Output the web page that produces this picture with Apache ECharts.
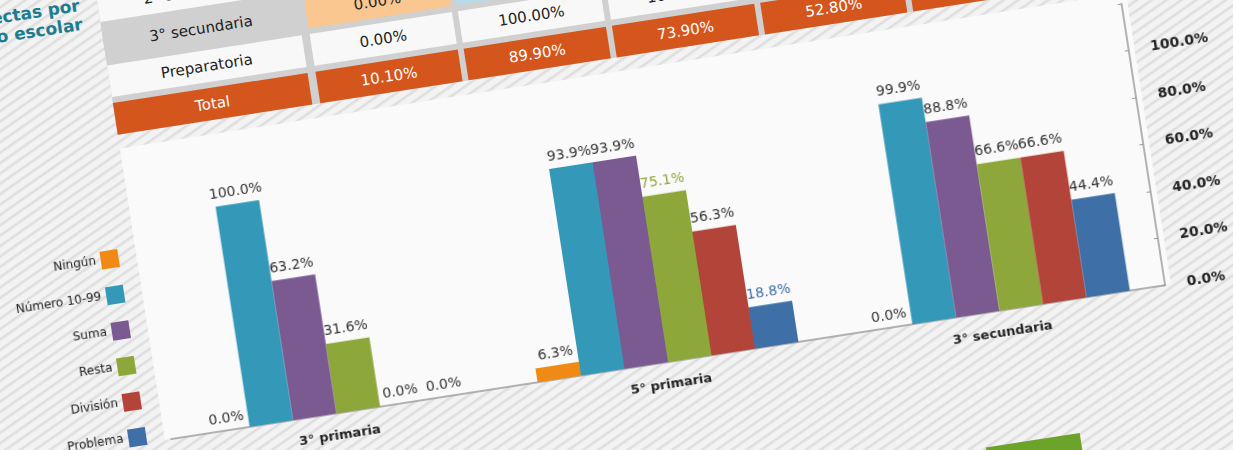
<!DOCTYPE html>
<html lang="es">
<head>
<meta charset="UTF-8">
<title>Respuestas correctas por grado escolar</title>
<style>
html,body{margin:0;padding:0;}
body{width:1233px;height:450px;overflow:hidden;position:relative;
  background:repeating-linear-gradient(145deg,#f3f3f3 0px,#f3f3f3 4px,#dbdbdb 6px,#f3f3f3 8.5px);
  font-family:"DejaVu Sans",Verdana,sans-serif;}
#sheet{position:absolute;left:-35px;top:-80px;width:1400px;height:700px;
  transform-origin:200px 520px;transform:rotate(-8.8deg);}
#panel{position:absolute;left:200px;top:225px;width:1018px;height:295px;background:#fafafa;}
#title{position:absolute;left:-318px;top:68px;width:500px;text-align:right;
  color:#1d7d8f;font-weight:bold;font-size:17px;line-height:19px;}
#tbl{position:absolute;left:200px;top:59px;width:1100px;height:152px;background:#d0d0d0;}
.cell{position:absolute;height:32px;line-height:32px;text-align:center;font-size:15px;color:#222;background:#f8f8f8;white-space:nowrap;}
#btn{position:absolute;left:1010px;top:653px;width:95px;height:32px;background:#6ba32b;}
#main{position:absolute;left:0;top:0;width:1400px;height:700px;}
</style>
</head>
<body>
<div id="sheet">
  <div id="title">Respuestas correctas por<br>grado escolar</div>
  <div id="tbl"></div>
  <div id="panel"></div>
  <div id="btn"></div>
  <div id="main"></div>
</div>
<script src="https://cdn.jsdelivr.net/npm/echarts@6/dist/echarts.min.js"></script>
<script>
// grados del grafico
var grados = ['3° primaria', '5° primaria', '3° secundaria'];
// series (porcentaje de aciertos)
var ningun   = [0.0, 6.3, 0.0];
var numero   = [100.0, 93.9, 99.9];
var suma     = [63.2, 93.9, 88.8];
var resta    = [31.6, 75.1, 66.6];
var division = [0.0, 56.3, 66.6];
var problema = [0.0, 18.8, 44.4];
var nombres  = ['Ningún', 'Número 10-99', 'Suma', 'Resta', 'División', 'Problema'];
var colores  = ['#f08a14', '#3499b9', '#7b5a92', '#8ea73a', '#b3443a', '#3e6fa6'];
var ticks    = [0, 20, 40, 60, 80, 100];

// tabla de arriba (solo se ve una parte)
var filas = ['2° secundaria', '3° secundaria', 'Preparatoria', 'Total'];
var tab2sec  = ['', '', '', '', '', ''];
var tab3sec  = ['0.00%', '99.90%', '88.80%', '66.60%', '66.60%', '44.40%'];
var tabPrep  = ['0.00%', '100.00%', '100.00%', '', '', ''];
var tabTotal = ['10.10%', '89.90%', '73.90%', '52.80%', '', ''];
var pastel   = ['#fbc790', '#b7dbe6', '#cfc0da', '#d6e2a9', '#e8b6ae', '#b9cadf'];

(function () {
    var tbl = document.getElementById('tbl');
    var valores = [tab2sec, tab3sec, tabPrep, tabTotal];
    for (var r = 0; r < filas.length; r++) {
        var top = r * 38 + 6;
        var c = document.createElement('div');
        c.className = 'cell';
        c.style.left = '0px'; c.style.top = top + 'px'; c.style.width = '197px';
        c.textContent = filas[r];
        if (r == 1) c.style.background = '#d0d0d0';
        if (r == 3) { c.style.background = '#d4561d'; c.style.color = '#fff'; }
        tbl.appendChild(c);
        for (var k = 0; k < 6; k++) {
            var d = document.createElement('div');
            d.className = 'cell';
            d.style.left = (205 + k * 150) + 'px'; d.style.top = top + 'px'; d.style.width = '144px';
            d.textContent = valores[r][k];
            if (r == 1) d.style.background = pastel[k];
            if (r == 3) { d.style.background = '#d4561d'; d.style.color = '#fff'; }
            tbl.appendChild(d);
        }
    }
})();

var myChart = echarts.init(document.getElementById('main'));
var series = [ningun, numero, suma, resta, division, problema].map(function (arr, i) {
    return {
        name: nombres[i],
        type: 'bar',
        yAxisIndex: 1,
        barWidth: 44,
        barGap: '0%',
        itemStyle: {color: colores[i]},
        label: {
            show: true,
            position: 'top',
            distance: 5,
            fontFamily: 'DejaVu Sans',
            fontSize: 14,
            color: '#333',
            formatter: function (p) { return p.value.toFixed(1) + '%'; }
        },
        data: arr.slice()
    };
});
// etiquetas resaltadas en 5° primaria
series[3].data[1] = {value: resta[1], label: {color: '#8ea73a'}};
series[5].data[1] = {value: problema[1], label: {color: '#3e6fa6'}};

var option = {
    animation: false,
    textStyle: {fontFamily: 'DejaVu Sans'},
    legend: {
        orient: 'vertical',
        right: 1213,
        top: 319,
        align: 'right',
        icon: 'rect',
        itemWidth: 18,
        itemHeight: 18,
        itemGap: 18,
        textStyle: {fontSize: 12, color: '#222'},
        data: nombres
    },
    grid: {left: 206, top: 235, width: 1006, height: 285},
    xAxis: {
        type: 'category',
        data: grados,
        axisLine: {lineStyle: {color: '#9a9a9a', width: 1.5}},
        axisTick: {show: false},
        axisLabel: {fontWeight: 'bold', fontSize: 13, color: '#222', margin: 16}
    },
    yAxis: [{
        type: 'value',
        position: 'right',
        min: 0,
        max: 120,
        interval: 20,
        axisLine: {show: true, lineStyle: {color: '#9a9a9a', width: 1.5}},
        axisTick: {show: true, inside: true, length: 4, lineStyle: {color: '#9a9a9a'}},
        splitLine: {show: false},
        axisLabel: {
            fontWeight: 'bold', fontSize: 14, color: '#222', margin: 22,
            formatter: function (v) { return ticks.indexOf(v) >= 0 ? v.toFixed(1) + '%' : ''; }
        }
    }, {
        type: 'value',
        show: false,
        min: 0,
        max: 128
    }],
    series: series
};
myChart.setOption(option);
</script>
</body>
</html>
